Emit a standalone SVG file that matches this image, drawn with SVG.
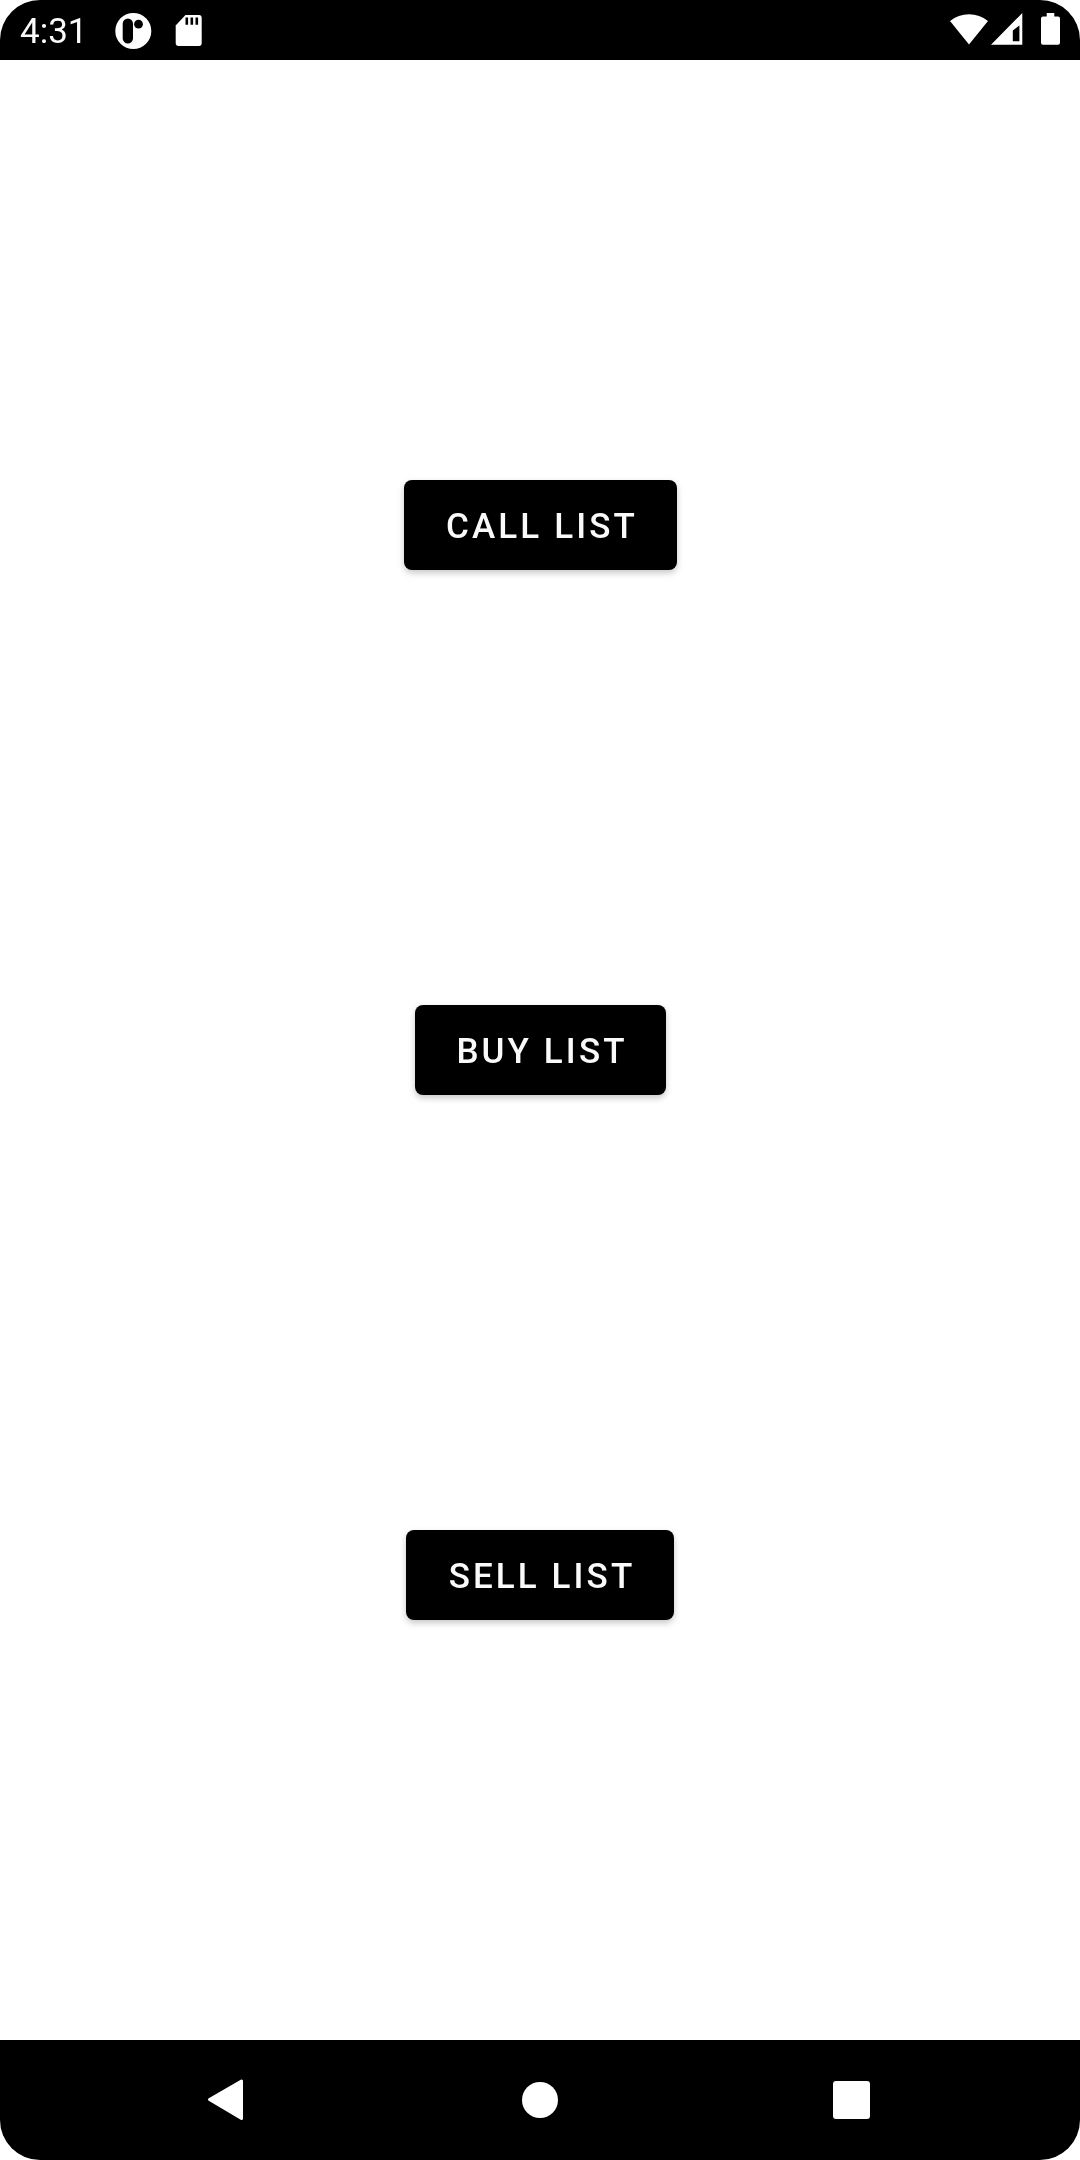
<svg xmlns="http://www.w3.org/2000/svg" width="1080" height="2160" viewBox="0 0 1080 2160">
<defs>
<filter id="sh" x="-10%" y="-20%" width="120%" height="150%"><feDropShadow dx="0" dy="3" stdDeviation="3" flood-color="#000" flood-opacity="0.22"/></filter>
</defs>
<style>
.btn{fill:#000;filter:url(#sh)}
.lbl{font-family:Roboto,"Liberation Sans",sans-serif;font-weight:500;font-size:35px;letter-spacing:3.1px;fill:#fff;text-anchor:middle;opacity:.98}
.ic{fill:#fff}
</style>
<rect width="1080" height="2160" fill="#fff"/>
<g id="status-bar">
<path d="M0 60V40A40 40 0 0 1 40 0H1040A40 40 0 0 1 1080 40V60Z" fill="#000"/>
<text x="20" y="43" opacity=".98" style="font-family:Roboto,'Liberation Sans',sans-serif;font-size:35px;fill:#fff">4:31</text>
<circle class="ic" cx="133.300" cy="31" r="18"/>
<rect x="122.700" y="18.500" width="10.300" height="25" rx="5.150" fill="#000"/>
<circle cx="138.500" cy="24.200" r="4.400" fill="#000"/>
<path class="ic" d="M185.500 15H199Q201.700 15 201.700 18V43Q201.700 46 199 46H178.700Q175.700 46 175.700 43V25.500Z"/>
<path d="M185.500 17.500h2.600v7.200h-2.600ZM190.500 17.500h2.600v7.200h-2.600ZM195.500 17.500h2.600v7.200h-2.600Z" fill="#000"/>
<path class="ic" d="M969 44.500L950 21A30 30 0 0 1 988 21Z"/>
<path class="ic" fill-rule="evenodd" d="M991 44.700L1022.300 13V44.700ZM1012.800 41.300H1019.400V25.500L1012.800 30.500Z"/>
<path class="ic" d="M1046.700 13H1054.300V16.500H1058Q1060 16.500 1060 18.500V42.700Q1060 44.700 1058 44.700H1043Q1041 44.700 1041 42.700V18.500Q1041 16.500 1043 16.500H1046.700Z"/>
</g>
<g id="call-list">
<rect class="btn" x="404" y="480" width="273" height="90" rx="8"/>
<text class="lbl" x="542" y="537.500">CALL LIST</text>
</g>
<g id="buy-list">
<rect class="btn" x="415" y="1005" width="251" height="90" rx="8"/>
<text class="lbl" x="542" y="1062.500">BUY LIST</text>
</g>
<g id="sell-list">
<rect class="btn" x="406" y="1530" width="268" height="90" rx="8"/>
<text class="lbl" x="542" y="1587.500">SELL LIST</text>
</g>
<g id="connectors"></g>
<g id="nav-bar">
<path d="M0 2040H1080V2120A40 40 0 0 1 1040 2160H40A40 40 0 0 1 0 2120Z" fill="#000"/>
<path class="ic" stroke="#fff" stroke-width="3" stroke-linejoin="round" d="M209.500 2099.500L241.500 2081V2118.500Z"/>
<circle class="ic" cx="540" cy="2100" r="18"/>
<rect class="ic" x="833" y="2081" width="37" height="38" rx="3"/>
</g>
</svg>
